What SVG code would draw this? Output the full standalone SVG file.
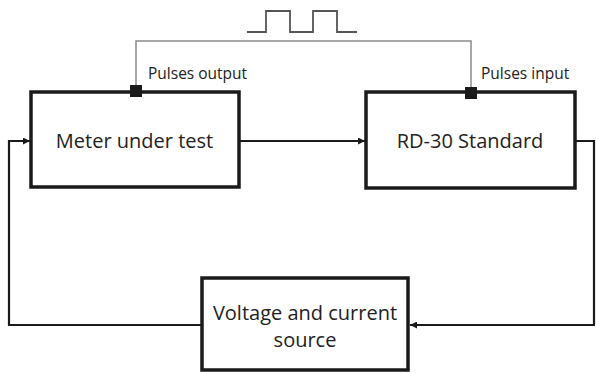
<svg xmlns="http://www.w3.org/2000/svg" width="596" height="373" viewBox="0 0 596 373">
<style>
.box{fill:#fff;stroke:#1a1a1a;stroke-width:3.5}
.wire{fill:none;stroke:#1a1a1a;stroke-width:2.2}
.sig{fill:none;stroke:#8a8a8a;stroke-width:1.5}
.pulse{fill:none;stroke:#555;stroke-width:1.8}
.t{font-family:"Open Sans","Liberation Sans",sans-serif;font-size:20px;fill:#222;text-anchor:middle}
.s{font-family:"Open Sans","Liberation Sans",sans-serif;font-size:15.5px;fill:#222}
.pin{fill:#1a1a1a}
</style>
<defs>
<marker id="arr" viewBox="0 0 10 10" refX="10" refY="5" markerWidth="8" markerHeight="7" orient="auto" markerUnits="userSpaceOnUse">
<path d="M0,0 L10,5 L0,10 z" fill="#1a1a1a"/>
</marker>
</defs>
<g id="connectors">
<polyline class="sig" points="136,91 136,41 471,41 471,92"/>
<polyline class="pulse" points="247,32 266,32 266,11 290,11 290,32 313,32 313,11 337,11 337,32 357,32"/>
<line class="wire" x1="239" y1="141" x2="365" y2="141" marker-end="url(#arr)"/>
<polyline class="wire" points="575,141 594,141 594,325 410,325" marker-end="url(#arr)"/>
<polyline class="wire" points="202,325 9,325 9,141 30,141" marker-end="url(#arr)"/>
</g>
<g id="meter">
<rect class="box" x="31" y="92" width="208" height="95"/>
<text class="t" x="134.5" y="148">Meter under test</text>
<rect class="pin" x="130" y="85" width="12" height="12"/>
<text class="s" x="148" y="79">Pulses output</text>
</g>
<g id="rd30">
<rect class="box" x="366" y="92" width="209" height="96"/>
<text class="t" x="470" y="148">RD-30 Standard</text>
<rect class="pin" x="465" y="87" width="12" height="12"/>
<text class="s" x="481" y="79">Pulses input</text>
</g>
<g id="source">
<rect class="box" x="202" y="278" width="206" height="92"/>
<text class="t" x="305" y="320">Voltage and current</text>
<text class="t" x="305" y="347">source</text>
</g>
</svg>
